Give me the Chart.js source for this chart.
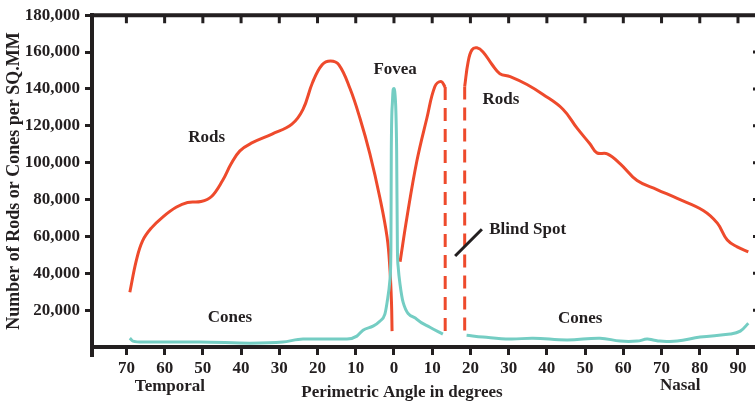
<!DOCTYPE html>
<html>
<head>
<meta charset="utf-8">
<script src="https://cdn.jsdelivr.net/npm/chart.js@4.4.1/dist/chart.umd.min.js"></script>
<style>
  html, body { margin: 0; padding: 0; background: #ffffff; }
  canvas { display: block; }
</style>
</head>
<body>
<canvas id="c" width="755" height="404"></canvas>
<script>
// ---- data (x: perimetric angle, negative = temporal side; y: cells per sq.mm) ----
const rodsTemporalX = [-69.1, -67.4, -65.8, -63.5, -60.5, -57.0, -54.0, -50.5, -47.8, -44.8, -42.6, -40.3, -37.2, -31.9, -26.7, -23.8, -21.3, -18.8, -16.6, -14.4, -11.5, -8.9, -6.3, -3.7, -1.8, -1.05, -0.65, -0.5];
const rodsTemporalY = [29700, 47000, 57500, 64500, 70500, 75800, 78400, 78900, 81500, 90500, 99400, 106400, 110700, 115500, 120900, 128900, 143500, 153100, 155200, 153100, 140200, 124100, 104800, 81100, 59600, 41900, 24200, 8600];

const rodsFoveaX = [1.6, 3.4, 6.0, 8.6, 10.7, 12.3, 13.4];
const rodsFoveaY = [46200, 70400, 101000, 124100, 141300, 144000, 141000];

const rodsNasalX = [18.5, 19.4, 20.4, 21.7, 23.3, 25.7, 27.7, 30.4, 34.8, 39.0, 44.2, 47.9, 51.3, 53.1, 55.8, 59.2, 63.6, 68.8, 74.1, 80.9, 84.6, 87.2, 89.8, 92.7];
const rodsNasalY = [141300, 154700, 161200, 162300, 160100, 153100, 148300, 146700, 142400, 137000, 129000, 118700, 110100, 105300, 104800, 99400, 90300, 85400, 80600, 74100, 67200, 58000, 54300, 51600];

const blindLeftX = [13.4, 13.4];
const blindLeftY = [141000, 7000];
const blindRightX = [18.5, 18.5];
const blindRightY = [141300, 6400];

const conesTemporalX = [-69.1, -68.3, -65.7, -50.8, -37.7, -29.1, -23.8, -16.8, -12.3, -9.7, -8.1, -5.5, -3.7, -2.4, -1.8, -1.05, -0.8, -0.7, -0.4, -0.2, 0, 0.2, 0.5, 0.7, 0.9, 1.1, 1.6, 2.4, 6.0, 9.4, 12.8];
const conesTemporalY = [4800, 3200, 2700, 2700, 2100, 2700, 4300, 4300, 4300, 5900, 9100, 11300, 14000, 17700, 24200, 36500, 52700, 106400, 133000, 139700, 140200, 138600, 127900, 106400, 52700, 43500, 33800, 24200, 15000, 10700, 7000];

const conesNasalX = [19.0, 23.3, 30.4, 36.4, 45.3, 53.9, 59.2, 63.6, 66.2, 67.8, 69.6, 74.1, 80.1, 88.0, 90.6, 92.7];
const conesNasalY = [6400, 5400, 4300, 4800, 3800, 4800, 3200, 3200, 4300, 3800, 3200, 3200, 5400, 7000, 8600, 12900];

const xTickStep = 10;
const yTickStep = 20000;
const xMin = -79, xMax = 94.45;
const yMin = 0, yMax = 180000;

// annotations (text placed in data coordinates)
const labels = [
  { text: 'Rods', x: -49.0, y: 113400, align: 'center' },
  { text: 'Fovea', x: 0.3, y: 150400, align: 'center' },
  { text: 'Rods', x: 28.0, y: 134300, align: 'center' },
  { text: 'Blind Spot', x: 24.9, y: 63900, align: 'left' },
  { text: 'Cones', x: -42.9, y: 16100, align: 'center' },
  { text: 'Cones', x: 48.7, y: 15600, align: 'center' }
];
const pointerX = [16.0, 23.0];
const pointerY = [49400, 63900];

// ---- styling ----
const INK = '#231f20';
const ROD = '#ee4a2c';
const CONE = '#74cdc3';
const SERIF = "'Liberation Serif', 'Times New Roman', serif";

const pts = (xs, ys) => xs.map((x, i) => ({ x, y: ys[i] }));

const frame = {
  id: 'frame',
  afterDraw(chart) {
    const { ctx, chartArea: a, scales: { x, y } } = chart;
    ctx.save();
    ctx.strokeStyle = INK;
    ctx.lineWidth = 4;
    ctx.beginPath();
    ctx.moveTo(a.left - 2, a.top);
    ctx.lineTo(a.right + 10, a.top);
    ctx.moveTo(a.right + 5, a.top);
    ctx.lineTo(a.right + 5, a.bottom);
    ctx.moveTo(a.left, a.bottom);
    ctx.lineTo(a.left, a.bottom + 10);
    ctx.stroke();
    ctx.lineWidth = 3;
    ctx.beginPath();
    x.ticks.forEach(t => {
      const px = x.getPixelForValue(t.value);
      ctx.moveTo(px, a.top);
      ctx.lineTo(px, a.top + 8);
    });
    y.ticks.forEach(t => {
      if (t.value === yMin || t.value === yMax) return;
      const py = y.getPixelForValue(t.value);
      ctx.moveTo(a.right + 5, py);
      ctx.lineTo(a.right - 2, py);
    });
    ctx.stroke();

    // pointer line for blind spot
    ctx.lineWidth = 3;
    ctx.beginPath();
    ctx.moveTo(x.getPixelForValue(pointerX[0]), y.getPixelForValue(pointerY[0]));
    ctx.lineTo(x.getPixelForValue(pointerX[1]), y.getPixelForValue(pointerY[1]));
    ctx.stroke();

    ctx.fillStyle = INK;
    ctx.textBaseline = 'middle';
    ctx.font = "bold 17px " + SERIF;
    labels.forEach(l => {
      ctx.textAlign = l.align;
      ctx.fillText(l.text, x.getPixelForValue(l.x), y.getPixelForValue(l.y));
    });

    // axis side labels
    ctx.textAlign = 'center';
    ctx.fillText('Temporal', x.getPixelForValue(-58.6), 387);
    ctx.fillText('Nasal', x.getPixelForValue(74.9), 386);
    ctx.fillText('Perimetric Angle in degrees', 402, 393);

    // y axis title
    ctx.save();
    ctx.translate(14, (a.top + a.bottom) / 2);
    ctx.rotate(-Math.PI / 2);
    ctx.font = "bold 18px " + SERIF;
    ctx.fillText('Number of Rods or Cones per SQ.MM', 0, 0);
    ctx.restore();
    ctx.restore();
  }
};

const lineDs = (data, color, extra) => Object.assign({
  data, borderColor: color, borderWidth: 3, pointRadius: 0, fill: false,
  cubicInterpolationMode: 'monotone', borderCapStyle: 'butt', borderJoinStyle: 'round'
}, extra || {});

const smooth = { cubicInterpolationMode: 'default', tension: 0.4 };

new Chart(document.getElementById('c'), {
  type: 'line',
  data: {
    datasets: [
      lineDs(pts(conesTemporalX, conesTemporalY), CONE),
      lineDs(pts(conesNasalX, conesNasalY), CONE, smooth),
      lineDs(pts(rodsTemporalX, rodsTemporalY), ROD, smooth),
      lineDs(pts(rodsFoveaX, rodsFoveaY), ROD, smooth),
      lineDs(pts(rodsNasalX, rodsNasalY), ROD, smooth),
      lineDs(pts(blindLeftX, blindLeftY), ROD, { borderDash: [13, 8], cubicInterpolationMode: 'default', tension: 0 }),
      lineDs(pts(blindRightX, blindRightY), ROD, { borderDash: [13, 8], cubicInterpolationMode: 'default', tension: 0 })
    ]
  },
  options: {
    responsive: false,
    animation: false,
    devicePixelRatio: 1,
    layout: { padding: { top: 13, right: 0, left: 0, bottom: 0 } },
    plugins: { legend: { display: false }, tooltip: { enabled: false } },
    scales: {
      x: {
        type: 'linear', min: xMin, max: xMax,
        afterFit(s) { s.height = 57; },
        ticks: {
          stepSize: xTickStep, includeBounds: false, autoSkip: false, maxRotation: 0,
          padding: 3, color: INK,
          font: { family: SERIF, weight: 'bold', size: 17 },
          callback: v => String(Math.abs(v))
        },
        grid: { drawOnChartArea: false, tickLength: 8, lineWidth: 3, color: INK },
        border: { width: 4, color: INK }
      },
      y: {
        type: 'linear', min: yMin, max: yMax,
        afterFit(s) { s.width = 92; },
        ticks: {
          stepSize: yTickStep, padding: 5, color: INK,
          font: { family: SERIF, weight: 'bold', size: 17 },
          callback: v => v === 0 ? '' : v.toLocaleString('en-US')
        },
        grid: {
          drawOnChartArea: false, tickLength: 7, lineWidth: 3,
          color: c => (c.tick && c.tick.value === 0) ? 'rgba(0,0,0,0)' : INK
        },
        border: { width: 4, color: INK }
      }
    }
  },
  plugins: [frame]
});
</script>
</body>
</html>
